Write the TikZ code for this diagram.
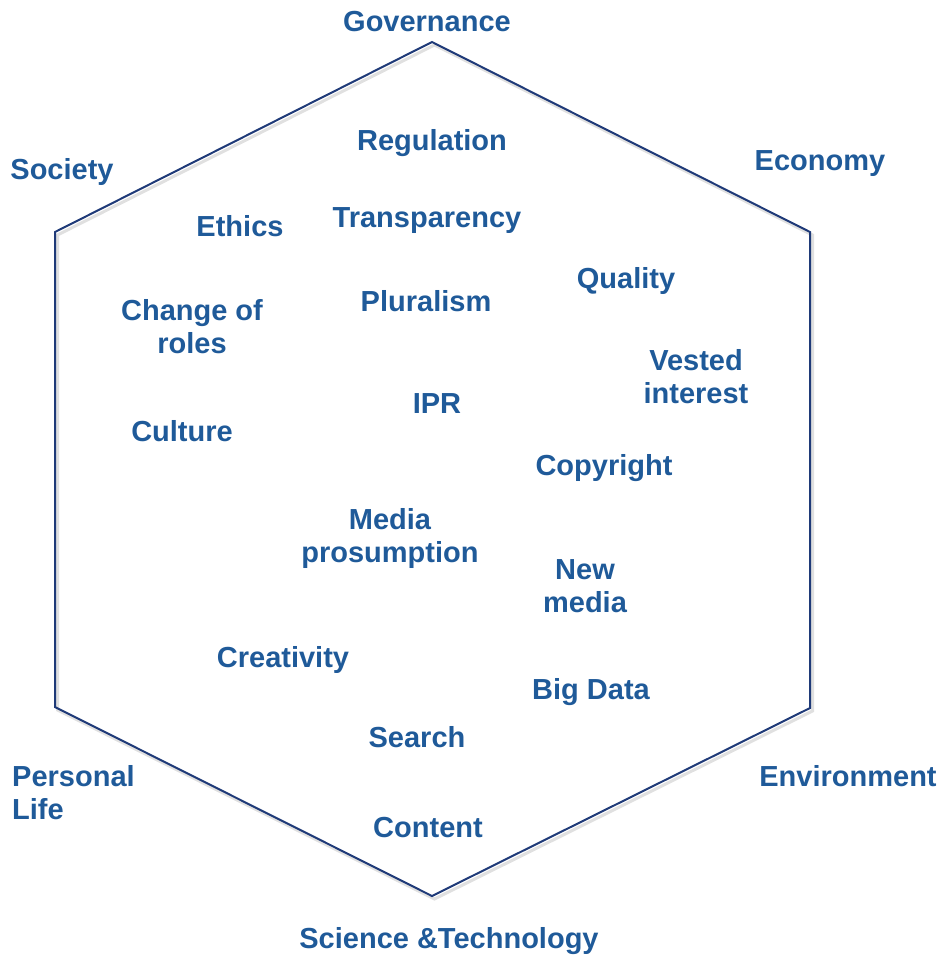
\documentclass[tikz,border=0pt]{standalone}
\usepackage{fontspec}
\setmainfont{Liberation Sans}
\definecolor{txtblue}{HTML}{1F5A99}
\definecolor{hexblue}{HTML}{1F3A78}
\begin{document}
\begin{tikzpicture}[x=1pt,y=-1pt,
  lbl/.style={text=txtblue,font=\bfseries\fontsize{29}{33}\selectfont,align=center,inner sep=0pt},
  hexline/.style={draw=hexblue,line width=2pt,line join=miter},
  hexshadow/.style={draw=black!12,line width=3pt}]
\useasboundingbox (0,0) rectangle (940,956);
\coordinate (t) at (432,42);
\coordinate (tr) at (810,232);
\coordinate (br) at (810,708);
\coordinate (b) at (432,896);
\coordinate (bl) at (55,707);
\coordinate (tl) at (55,232);
\begin{scope}[shift={(2.5,3)}]
\draw[hexshadow] (432,42) -- (810,232) -- (810,708) -- (432,896) -- (55,707) -- (55,232) -- cycle;
\end{scope}
\draw[hexline] (t) -- (tr) -- (br) -- (b) -- (bl) -- (tl) -- cycle;
\node[lbl] (gov) at (427,22) {Governance};
\node[lbl] (soc) at (62,172) {Society};
\node[lbl] (eco) at (820,164) {Economy};
\node[lbl] (env) at (848,776) {Environment};
\node[lbl] (sci) at (449,941) {Science \&Technology};
\node[lbl,align=left,anchor=west] (pers) at (12,793) {Personal\\Life};
\node[lbl] (reg) at (432,143) {Regulation};
\node[lbl] (eth) at (240,226) {Ethics};
\node[lbl] (tra) at (427,221) {Transparency};
\node[lbl] (qua) at (626,281) {Quality};
\node[lbl] (cha) at (192,327) {Change of\\roles};
\node[lbl] (plu) at (426,301) {Pluralism};
\node[lbl] (ves) at (696,377) {Vested\\interest};
\node[lbl] (ipr) at (437,404) {IPR};
\node[lbl] (cul) at (182,431) {Culture};
\node[lbl] (cop) at (604,468) {Copyright};
\node[lbl] (med) at (390,538) {Media\\prosumption};
\node[lbl] (new) at (585,586) {New\\media};
\node[lbl] (cre) at (283,660) {Creativity};
\node[lbl] (big) at (591,692) {Big Data};
\node[lbl] (sea) at (417,737) {Search};
\node[lbl] (con) at (428,828) {Content};
\end{tikzpicture}
\end{document}
